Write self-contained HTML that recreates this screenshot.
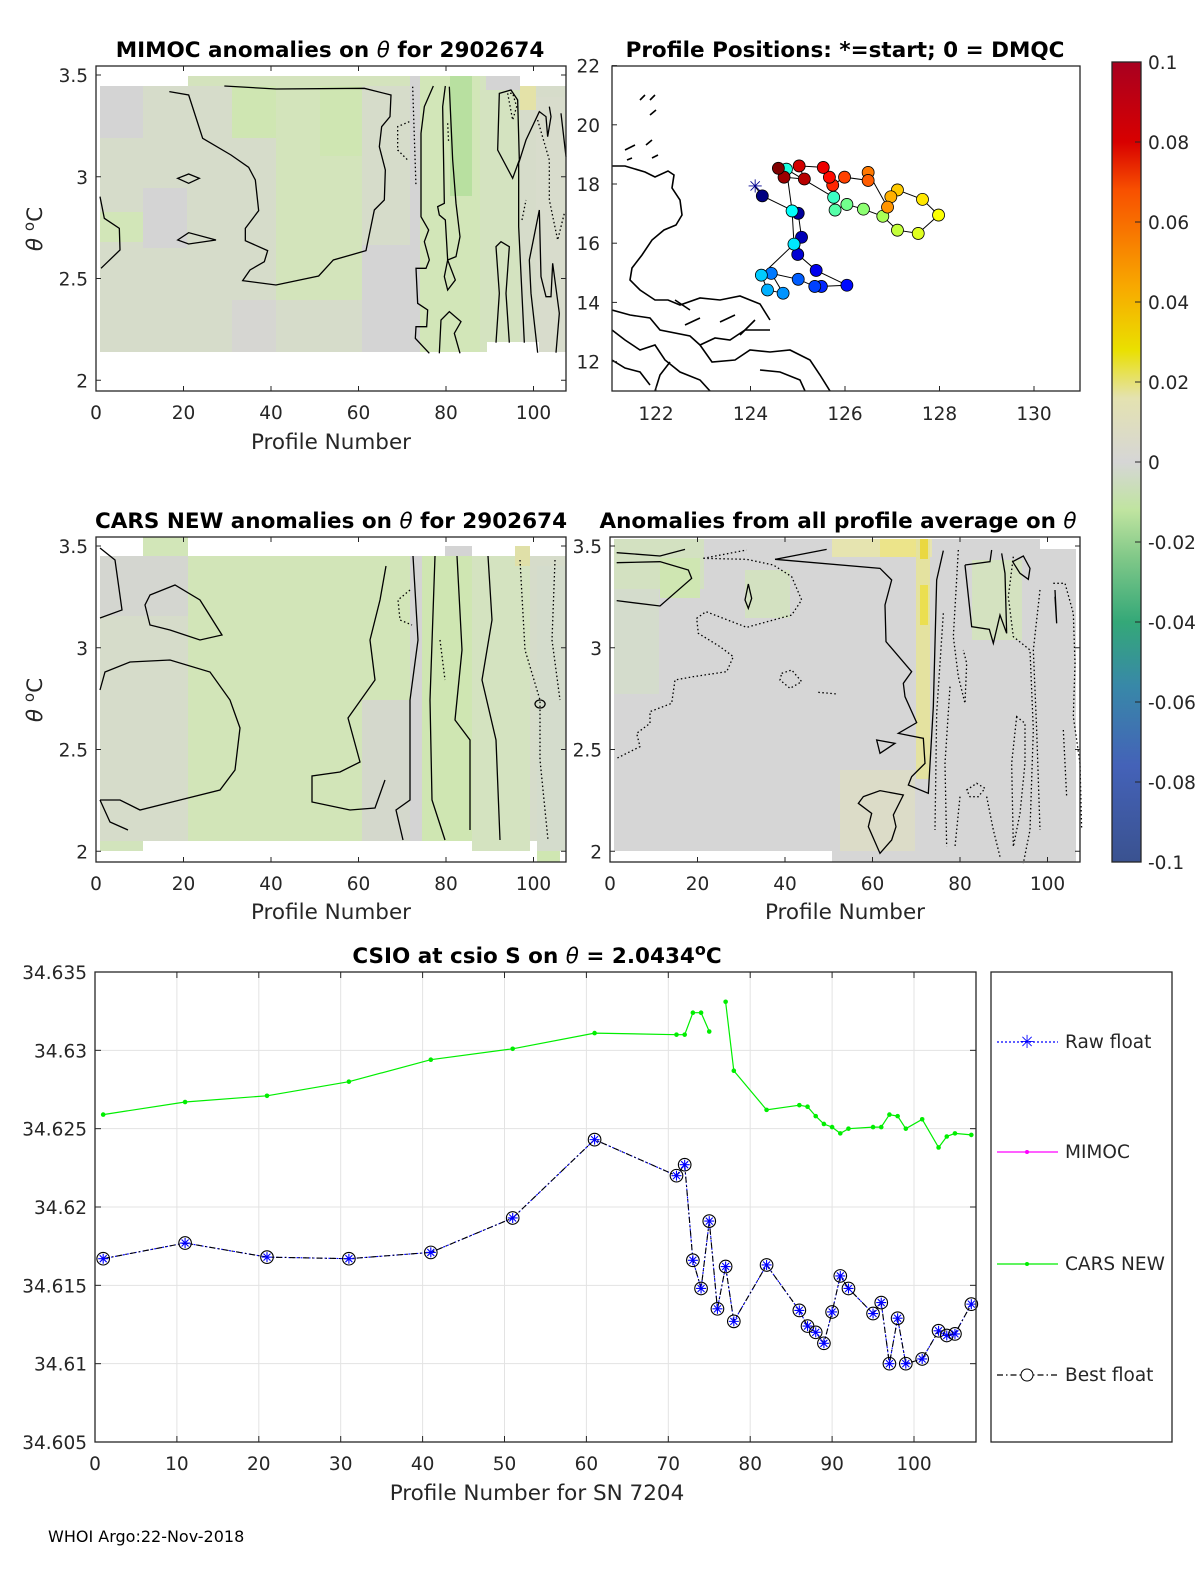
<!DOCTYPE html>
<html><head><meta charset="utf-8"><style>
html,body{margin:0;padding:0;background:#fff;}
svg{display:block;font-family:"DejaVu Sans","Liberation Sans",sans-serif;}
.tk{font-size:18.5px;fill:#262626;}
.ttl{font-size:21.5px;font-weight:bold;fill:#000;}
.lab{font-size:21.5px;fill:#262626;}
.ax{fill:none;stroke:#262626;stroke-width:1.3;}
.ct{fill:none;stroke:#000;stroke-width:1.3;}
.cd{fill:none;stroke:#000;stroke-width:1.3;stroke-dasharray:1.5 2.5;}
.coast{fill:none;stroke:#000;stroke-width:1.6;}
</style></head><body>
<svg id="fig" width="1200" height="1575" viewBox="0 0 1200 1575" xmlns="http://www.w3.org/2000/svg">
<defs>
<linearGradient id="cbg" x1="0" y1="1" x2="0" y2="0">
<stop offset="0" stop-color="#3a5290"/><stop offset="0.12" stop-color="#4462b8"/>
<stop offset="0.22" stop-color="#3888a8"/><stop offset="0.3" stop-color="#34a878"/>
<stop offset="0.38" stop-color="#80c888"/><stop offset="0.44" stop-color="#c0e4a0"/>
<stop offset="0.5" stop-color="#d6d6d6"/><stop offset="0.58" stop-color="#e4e2b0"/>
<stop offset="0.64" stop-color="#eae000"/><stop offset="0.72" stop-color="#f8a800"/>
<stop offset="0.84" stop-color="#f85000"/><stop offset="0.9" stop-color="#d80000"/>
<stop offset="1" stop-color="#a80020"/></linearGradient>
<clipPath id="mapclip"><rect x="612" y="66" width="468" height="325"/></clipPath>
</defs>

<!-- ========== Panel 1: MIMOC ========== -->
<g>
<text class="ttl" x="330" y="57" text-anchor="middle">MIMOC anomalies on <tspan font-style="italic" font-weight="normal">θ</tspan>  for 2902674</text>
<g>
<rect x="100" y="86" width="466" height="266" fill="#d6dcca"/>
<rect x="188" y="76" width="332" height="10" fill="#d4e3bd"/>
<rect x="100" y="86" width="43" height="52" fill="#d4d4d4"/>
<rect x="100" y="212" width="43" height="30" fill="#d2e6b8"/>
<rect x="143" y="188" width="44" height="60" fill="#d4d4d4"/>
<rect x="232" y="86" width="44" height="52" fill="#cfe6b2"/>
<rect x="276" y="86" width="86" height="214" fill="#d3e4bb"/>
<rect x="320" y="86" width="42" height="70" fill="#cfe6b2"/>
<rect x="362" y="245" width="48" height="107" fill="#d4d4d4"/>
<rect x="232" y="300" width="44" height="52" fill="#d6d6d2"/>
<rect x="410" y="76" width="10" height="276" fill="#d4d4d4"/>
<rect x="420" y="76" width="60" height="276" fill="#d2e6b8"/>
<rect x="450" y="76" width="22" height="120" fill="#b8e0a0"/>
<rect x="480" y="76" width="40" height="276" fill="#d4e3c0"/>
<rect x="486" y="76" width="34" height="14" fill="#d4d4d4"/>
<rect x="520" y="86" width="16" height="24" fill="#e4e2a8"/>
<rect x="536" y="97" width="30" height="255" fill="#d8dccc"/>
<rect x="487" y="342" width="52" height="11" fill="#fff"/>
</g>
<g transform="translate(96,60) scale(0.33333)">
<path class="ct" vector-effect="non-scaling-stroke" d="M385,78 L540,87 805,85 885,105 882,170 857,200 850,260 868,330 865,420 835,450 810,572 712,600 668,648 540,675 440,662 462,630 505,605 515,572 448,542 448,505 488,452 478,360 458,322 405,285 320,235 278,105 220,95"/>
<path class="ct" vector-effect="non-scaling-stroke" d="M245,355 L278,342 310,355 278,370 Z M245,540 L278,518 360,540 278,552 Z M12,410 L25,475 70,505 72,570 15,625"/>
<path class="ct" vector-effect="non-scaling-stroke" d="M1012,78 L985,140 975,220 975,470 998,510 985,545 1000,600 990,625 960,625 965,730 995,750 992,800 960,800 958,835 1000,880"/>
<path class="ct" vector-effect="non-scaling-stroke" d="M1048,78 L1040,140 1045,430 1025,440 1030,465 1048,480 1055,600 1045,650 1055,690 1078,660 1055,600 1080,590 1092,530 1080,430 1070,300 1060,80"/>
<path class="ct" vector-effect="non-scaling-stroke" d="M1030,880 L1035,780 1060,755 1095,785 1075,820 1092,880 M1210,100 L1205,270 1250,355 1270,300 1265,120 1245,90 Z M1285,848 L1268,500 1268,310 1290,240 1330,155 1350,170 1355,230 1365,170 1360,140 M1200,848 L1210,700 1200,560 1215,545 1240,560 1230,700 1240,848 M1380,878 L1390,760 1370,610 1365,710 1350,710 1335,650 1330,450 1300,600 1305,700 1325,878 M1395,160 L1410,290"/>
<path class="cd" vector-effect="non-scaling-stroke" d="M940,185 L905,200 905,270 935,300 M950,80 L960,380 M1055,190 L1058,250 M1235,100 L1250,180 1262,140 1250,100 Z M1325,180 L1360,300 1360,420 1385,540 1405,460 M1278,480 L1290,420"/>
</g>
<rect class="ax" x="96" y="66" width="470" height="325"/>
<g id="p1ticks"></g>
<text class="lab" x="331" y="449" text-anchor="middle">Profile Number</text>
<text class="lab" transform="translate(42,229) rotate(-90)" text-anchor="middle"><tspan font-style="italic">θ</tspan> <tspan dy="-8" font-size="15">o</tspan><tspan dy="8">C</tspan></text>
</g>

<!-- ========== Panel 2: map ========== -->
<g>
<text class="ttl" x="845" y="57" text-anchor="middle">Profile Positions: *=start; 0 = DMQC</text>
<g clip-path="url(#mapclip)">
<path class="coast" d="M612,166 L625,166 645,172 655,177 668,171 674,175 672,188 680,200 682,215 676,225 664,230 652,240 642,255 632,268 630,280 640,290 655,300 668,300 680,305 700,298 720,300 740,296 760,304 770,320"/>
<path class="coast" d="M612,310 L630,315 650,318 660,330 690,336 700,345 715,338 730,340 745,330 770,330 M612,330 L625,340 640,350 655,345 665,360 680,372 700,380 710,391"/>
<path class="coast" d="M700,345 L712,362 735,360 750,350 770,352 790,350 810,360 820,375 830,391 M760,370 L780,372 800,380 805,391 M612,360 L625,368 640,372 650,385 M655,391 L660,375 670,362"/>
<path class="coast" d="M655,95 L650,100 M656,110 L650,115 M652,140 L646,145 M658,155 L652,158 M625,150 L635,145 M627,160 L632,158 M640,100 L645,95 M685,325 L700,318 M740,335 L755,320 M675,300 L690,310 M720,322 L735,315"/>
</g>
<g id="mapmarks"></g>
<rect class="ax" x="612" y="66" width="468" height="325"/>
<g id="p2ticks"></g>
</g>

<!-- ========== Colorbar ========== -->
<g>
<rect x="1112" y="62" width="29" height="800" fill="url(#cbg)" stroke="#262626" stroke-width="1.3"/>
<g id="cbticks"></g>
</g>

<!-- ========== Panel 3: CARS ========== -->
<g>
<text class="ttl" x="331" y="528" text-anchor="middle">CARS NEW anomalies on <tspan font-style="italic" font-weight="normal">θ</tspan> for 2902674</text>
<g>
<rect x="100" y="556" width="466" height="285" fill="#d6dcca"/>
<rect x="143" y="537" width="45" height="19" fill="#d2e6b8"/>
<rect x="100" y="841" width="43" height="10" fill="#d2e4bc"/>
<rect x="188" y="556" width="222" height="285" fill="#d2e5b8"/>
<rect x="100" y="556" width="88" height="60" fill="#d4d6d0"/>
<rect x="362" y="700" width="48" height="141" fill="#d4d8cc"/>
<rect x="410" y="556" width="12" height="285" fill="#d4d4d4"/>
<rect x="422" y="556" width="50" height="285" fill="#cfe6b2"/>
<rect x="445" y="546" width="27" height="10" fill="#d4d4d4"/>
<rect x="472" y="556" width="58" height="295" fill="#d4e3c0"/>
<rect x="515" y="546" width="15" height="20" fill="#e0e0a8"/>
<rect x="537" y="566" width="29" height="285" fill="#d4dccc"/>
<rect x="537" y="851" width="23" height="11" fill="#cfe6b2"/>
</g>
<g>
<path class="ct" d="M100,548 L115,560 122,610 100,618 M150,595 L175,585 200,600 222,635 200,640 170,630 150,625 145,605 Z M100,690 L105,672 130,662 170,660 210,672 230,700 240,728 235,770 220,790 180,800 140,810 120,800 100,800"/>
<path class="ct" d="M386,566 L380,600 370,640 375,680 348,718 360,762 340,772 312,776 312,802 350,810 375,808 385,780 M100,800 L110,822 128,830"/>
<path class="ct" d="M413,556 L418,640 410,700 410,800 396,810 403,840 M435,556 L430,700 432,800 445,840 M457,556 L462,650 455,720 470,740 470,830 M488,556 L492,620 482,680 496,740 500,840 M540,700 a5,4 0 1 0 0.1,0"/>
<path class="cd" d="M410,590 L398,600 400,620 412,625 M520,560 L525,650 540,700 540,760 548,840 M440,640 L445,680 M555,560 L552,640 560,700"/>
</g>
<rect class="ax" x="96" y="537" width="470" height="325"/>
<g id="p3ticks"></g>
<text class="lab" x="331" y="919" text-anchor="middle">Profile Number</text>
<text class="lab" transform="translate(42,700) rotate(-90)" text-anchor="middle"><tspan font-style="italic">θ</tspan> <tspan dy="-8" font-size="15">o</tspan><tspan dy="8">C</tspan></text>
</g>

<!-- ========== Panel 4: all-profile average ========== -->
<g>
<text class="ttl" x="838" y="528" text-anchor="middle">Anomalies from all profile average on <tspan font-style="italic" font-weight="normal">θ</tspan></text>
<g>
<rect x="614" y="539" width="462" height="312" fill="#d6d6d6"/>
<rect x="832" y="851" width="244" height="11" fill="#d6d6d6"/>
<rect x="614" y="539" width="90" height="50" fill="#d3e1c1"/>
<rect x="660" y="558" width="40" height="40" fill="#cfe6b2"/>
<rect x="614" y="589" width="45" height="105" fill="#d4dccc"/>
<rect x="745" y="570" width="45" height="48" fill="#d3e1c1"/>
<rect x="832" y="539" width="100" height="18" fill="#e6e4b0"/>
<rect x="880" y="539" width="40" height="18" fill="#ece48a"/>
<rect x="916" y="539" width="14" height="240" fill="#e4e2a0"/>
<rect x="920" y="585" width="8" height="40" fill="#ebdf50"/>
<rect x="920" y="539" width="8" height="20" fill="#ead840"/>
<rect x="972" y="560" width="50" height="80" fill="#d4e2c0"/>
<rect x="840" y="770" width="75" height="81" fill="#dcdcc8"/>
<rect x="1040" y="539" width="36" height="10" fill="#fff"/>
</g>
<g transform="translate(600,530) scale(0.33333)">
<path class="ct" vector-effect="non-scaling-stroke" d="M50,68 L180,78 255,58 M50,98 L180,95 265,120 275,145 180,228 50,212 M525,88 L680,58 M525,88 L840,115 875,150 855,225 858,335 935,425 910,460 915,500 950,578 895,610 970,625 975,700 935,740 925,765 985,790 1000,530 1010,150 1030,62 M445,162 L435,210 445,235 455,205 Z M830,630 L885,640 840,670 Z M790,800 L840,782 910,795 880,855 888,890 875,930 840,970 805,890 815,850 775,820 Z M1095,105 L1170,95 1175,60 M1095,105 L1115,290 1168,298 1180,340 1200,255 1220,310 1215,130 1205,70 M1238,95 L1270,78 1290,115 1285,148 1260,130 Z M1365,180 L1370,280 1365,200"/>
<path class="cd" vector-effect="non-scaling-stroke" d="M310,85 L440,60 M310,85 L440,88 520,105 575,140 605,210 575,255 440,292 318,245 290,265 295,310 360,350 400,380 380,425 280,440 225,450 215,520 150,545 150,580 110,610 120,650 50,685 M1030,250 L1010,550 1005,900 M1050,470 L1035,700 1040,950 M1075,60 L1060,320 1075,440 1095,520 1100,400 1090,360 M1080,800 L1065,950 M1240,80 L1225,200 1240,320 1290,360 1300,600 1290,900 1270,1000 M1250,560 L1235,700 1240,950 1260,850 1275,700 1275,580 Z M1320,180 L1300,360 1310,600 1320,900 M1360,160 L1395,160 1420,250 1425,400 1420,560 1440,700 1445,900 M1390,600 L1400,800 M1100,780 L1130,760 1155,775 1135,800 1110,800 Z M545,430 L575,420 605,455 570,475 540,450 Z M655,487 L712,492 M1160,800 L1180,900 1200,980"/>
</g>
<rect class="ax" x="610" y="537" width="470" height="325"/>
<g id="p4ticks"></g>
<text class="lab" x="845" y="919" text-anchor="middle">Profile Number</text>
</g>

<!-- ========== Bottom line chart ========== -->
<g>
<text class="ttl" x="537" y="963" text-anchor="middle">CSIO at csio S on <tspan font-style="italic" font-weight="normal">θ</tspan> = 2.0434<tspan dy="-8" font-size="16">o</tspan><tspan dy="8">C</tspan></text>
<g id="grid"></g>
<g id="series"></g>
<rect class="ax" x="95" y="972" width="881" height="470"/>
<g id="bticks"></g>
<text class="lab" x="537" y="1500" text-anchor="middle">Profile Number for SN 7204</text>
<g>
<rect x="991" y="972" width="181" height="470" fill="#fff" stroke="#262626" stroke-width="1.3"/>
<g>
<line x1="997" y1="1042" x2="1058" y2="1042" stroke="#0000ff" stroke-width="1.2" stroke-dasharray="2 2"/>
<text x="1027" y="1048" text-anchor="middle" font-size="18" fill="#0000ff">✳</text>
<text class="tk" x="1065" y="1048">Raw float</text></g>
<g>
<line x1="997" y1="1152" x2="1058" y2="1152" stroke="#ff00ff" stroke-width="1.2"/>
<circle cx="1027" cy="1152" r="2" fill="#ff00ff"/>
<text class="tk" x="1065" y="1158">MIMOC</text></g>
<g>
<line x1="997" y1="1264" x2="1058" y2="1264" stroke="#00ee00" stroke-width="1.2"/>
<circle cx="1027" cy="1264" r="2" fill="#00ee00"/>
<text class="tk" x="1065" y="1270">CARS NEW</text></g>
<g>
<line x1="997" y1="1375" x2="1058" y2="1375" stroke="#000" stroke-width="1.2" stroke-dasharray="6 3 1.5 3"/>
<circle cx="1027" cy="1375" r="6" fill="#fff" stroke="#000"/>
<text class="tk" x="1065" y="1381">Best float</text></g>
</g>
</g>
<text x="48" y="1542" font-size="16" fill="#000">WHOI Argo:22-Nov-2018</text>
</svg>
<script>
// ---- bottom chart data ----
const carsProfiles = [1,11,21,31,41,51,61,71,72,73,74,75,null,77,78,82,86,87,88,89,90,91,92,95,96,97,98,99,101,103,104,105,107];
const carsValues = [34.6259,34.6267,34.6271,34.6280,34.6294,34.6301,34.6311,34.6310,34.6310,34.6324,34.6324,34.6312,null,34.6331,34.6287,34.6262,34.6265,34.6264,34.6258,34.6253,34.6251,34.6247,34.6250,34.6251,34.6251,34.6259,34.6258,34.6250,34.6256,34.6238,34.6245,34.6247,34.6246];
const floatProfiles = [1,11,21,31,41,51,61,71,72,73,74,75,76,77,78,82,86,87,88,89,90,91,92,95,96,97,98,99,101,103,104,105,107];
const floatValues = [34.6167,34.6177,34.6168,34.6167,34.6171,34.6193,34.6243,34.6220,34.6227,34.6166,34.6148,34.6191,34.6135,34.6162,34.6127,34.6163,34.6134,34.6124,34.6120,34.6113,34.6133,34.6156,34.6148,34.6132,34.6139,34.6100,34.6129,34.6100,34.6103,34.6121,34.6118,34.6119,34.6138];
const xTicks = [0,10,20,30,40,50,60,70,80,90,100];
const yTicks = [34.605,34.61,34.615,34.62,34.625,34.63,34.635];
const yTickLabels = ["34.605","34.61","34.615","34.62","34.625","34.63","34.635"];
// ---- map data ----
const mapLon = [124.10,124.25,125.01,125.08,125.00,125.39,126.04,125.50,125.36,125.01,124.44,124.69,124.36,124.23,124.92,124.88,124.76,125.76,125.79,126.04,126.39,126.80,127.11,127.55,127.98,127.64,127.11,126.97,126.90,126.49,126.49,125.99,125.74,125.67,125.54,125.03,125.14,124.71,124.59];
const mapLat = [17.91,17.60,17.01,16.20,15.62,15.08,14.58,14.54,14.54,14.78,14.98,14.31,14.42,14.92,15.97,17.09,18.50,17.55,17.12,17.31,17.15,16.91,16.44,16.33,16.95,17.48,17.80,17.57,17.22,18.39,18.12,18.23,17.96,18.23,18.56,18.61,18.17,18.23,18.53];
const mapLonTicks = [122,124,126,128,130];
const mapLatTicks = [12,14,16,18,20,22];
const thetaTicks = [2,2.5,3,3.5];
const profTicks = [0,20,40,60,80,100];
const cbTicks = [0.1,0.08,0.06,0.04,0.02,0,-0.02,-0.04,-0.06,-0.08,-0.1];
const cbLabels = ["0.1","0.08","0.06","0.04","0.02","0","-0.02","-0.04","-0.06","-0.08","-0.1"];

const NS='http://www.w3.org/2000/svg';
function mk(tag,attrs,parent){const e=document.createElementNS(NS,tag);for(const k in attrs)e.setAttribute(k,attrs[k]);parent.appendChild(e);return e;}
function txt(parent,x,y,s,anchor){const t=mk('text',{x:x,y:y,'text-anchor':anchor,class:'tk'},parent);t.textContent=s;return t;}

// bottom axes
const bx=v=>95+(v-0)*8.19;
const by=v=>1442-(v-34.605)/0.030*470;
const grid=document.getElementById('grid'), bt=document.getElementById('bticks');
xTicks.forEach(v=>{
  const l=mk('line',{x1:bx(v),x2:bx(v),y1:972,y2:1442,stroke:'#e3e3e3','stroke-width':1},grid);
  
  
  mk('line',{x1:bx(v),x2:bx(v),y1:1442,y2:1436,stroke:'#262626'},bt);
  mk('line',{x1:bx(v),x2:bx(v),y1:972,y2:978,stroke:'#262626'},bt);
  const t=txt(bt,bx(v),1470,String(v),'middle');
  
  
});
yTicks.forEach((v,i)=>{
  const l=mk('line',{x1:95,x2:976,y1:by(v),y2:by(v),stroke:'#e3e3e3','stroke-width':1},grid);
  
  
  mk('line',{x1:95,x2:101,y1:by(v),y2:by(v),stroke:'#262626'},bt);
  mk('line',{x1:970,x2:976,y1:by(v),y2:by(v),stroke:'#262626'},bt);
  const t=txt(bt,87,by(v)+7,yTickLabels[i],'end');
  
  
});
const ser=document.getElementById('series');
let d='',pen=false;
carsProfiles.forEach((p,i)=>{
  if(p===null||carsValues[i]===null){pen=false;return;}
  d+=(pen?'L':'M')+bx(p).toFixed(1)+','+by(carsValues[i]).toFixed(1)+' ';pen=true;
});
const cl=mk('path',{d:d,fill:'none',stroke:'#00ee00','stroke-width':1.2},ser);


carsProfiles.forEach((p,i)=>{
  if(p===null)return;
  const c=mk('circle',{cx:bx(p),cy:by(carsValues[i]),r:2.3,fill:'#00ee00'},ser);
  
  
});
let fd='';
floatProfiles.forEach((p,i)=>{fd+=(i?'L':'M')+bx(p).toFixed(1)+','+by(floatValues[i]).toFixed(1)+' ';});
const rl=mk('path',{d:fd,fill:'none',stroke:'#0000ff','stroke-width':1.1,'stroke-dasharray':'2 2'},ser);


const bl=mk('path',{d:fd,fill:'none',stroke:'#000','stroke-width':1.1,'stroke-dasharray':'6 3 1.5 3'},ser);


floatProfiles.forEach((p,i)=>{
  const x=bx(p),y=by(floatValues[i]);
  const g=mk('g',{},ser);
  
  
  mk('circle',{cx:x,cy:y,r:6.3,fill:'none',stroke:'#000','stroke-width':1.1},g);
  mk('path',{d:`M${x-5},${y}H${x+5}M${x},${y-5}V${y+5}M${x-3.5},${y-3.5}L${x+3.5},${y+3.5}M${x-3.5},${y+3.5}L${x+3.5},${y-3.5}`,stroke:'#0000ff','stroke-width':1.1},g);
});

function panelTicks(id,x0,top,bottom,yLabX){
  const g=document.getElementById(id);
  const px=v=>x0+v*4.375, py=v=>(top+ (3.5-v)*203.5);
  profTicks.forEach(v=>{
    mk('line',{x1:px(v),x2:px(v),y1:bottom,y2:bottom-5,stroke:'#262626'},g);
    mk('line',{x1:px(v),x2:px(v),y1:bottom-325,y2:bottom-320,stroke:'#262626'},g);
    const t=txt(g,px(v),bottom+28,String(v),'middle');
    
    
  });
  thetaTicks.forEach(v=>{
    mk('line',{x1:x0,x2:x0+5,y1:py(v),y2:py(v),stroke:'#262626'},g);
    mk('line',{x1:x0+465,x2:x0+470,y1:py(v),y2:py(v),stroke:'#262626'},g);
    const t=txt(g,yLabX,py(v)+7,String(v),'end');
    
    
  });
}
panelTicks('p1ticks',96,75,391,88);
panelTicks('p3ticks',96,546,862,88);
panelTicks('p4ticks',610,546,862,602);

const mx=v=>656+(v-122)*47.25, my=v=>184-(v-18)*29.6;
const m2=document.getElementById('p2ticks');
mapLonTicks.forEach(v=>{
  mk('line',{x1:mx(v),x2:mx(v),y1:391,y2:386,stroke:'#262626'},m2);
  const t=txt(m2,mx(v),420,String(v),'middle');
  
  
});
mapLatTicks.forEach(v=>{
  mk('line',{x1:612,x2:617,y1:my(v),y2:my(v),stroke:'#262626'},m2);
  const t=txt(m2,600,my(v)+7,String(v),'end');
  
  
});
function jet(t){
  const r=Math.min(1,Math.max(0,1.5-Math.abs(4*t-3))),g=Math.min(1,Math.max(0,1.5-Math.abs(4*t-2))),b=Math.min(1,Math.max(0,1.5-Math.abs(4*t-1)));
  return `rgb(${Math.round(r*255)},${Math.round(g*255)},${Math.round(b*255)})`;
}
const mm=document.getElementById('mapmarks');
let md='';
mapLon.forEach((v,i)=>{md+=(i?'L':'M')+mx(v).toFixed(1)+','+my(mapLat[i]).toFixed(1)+' ';});
const tl=mk('path',{d:md,fill:'none',stroke:'#000','stroke-width':1},mm);


mapLon.forEach((v,i)=>{
  if(i===0){
    const s=mk('text',{x:mx(v),y:my(mapLat[i])+6,'text-anchor':'middle','font-size':18,fill:'#00008f'},mm);
    s.textContent='✳';
    
    
    return;
  }
  const c=mk('circle',{cx:mx(v),cy:my(mapLat[i]),r:6,fill:jet((i-1)/(mapLon.length-2)),stroke:'#000','stroke-width':0.8},mm);
  
  
});

const cb=document.getElementById('cbticks');
cbTicks.forEach((v,i)=>{
  const y=462-v*4000;
  mk('line',{x1:1135,x2:1141,y1:y,y2:y,stroke:'#262626'},cb);
  const t=txt(cb,1148,y+7,cbLabels[i],'start');
  
  
});
</script>
</body></html>
